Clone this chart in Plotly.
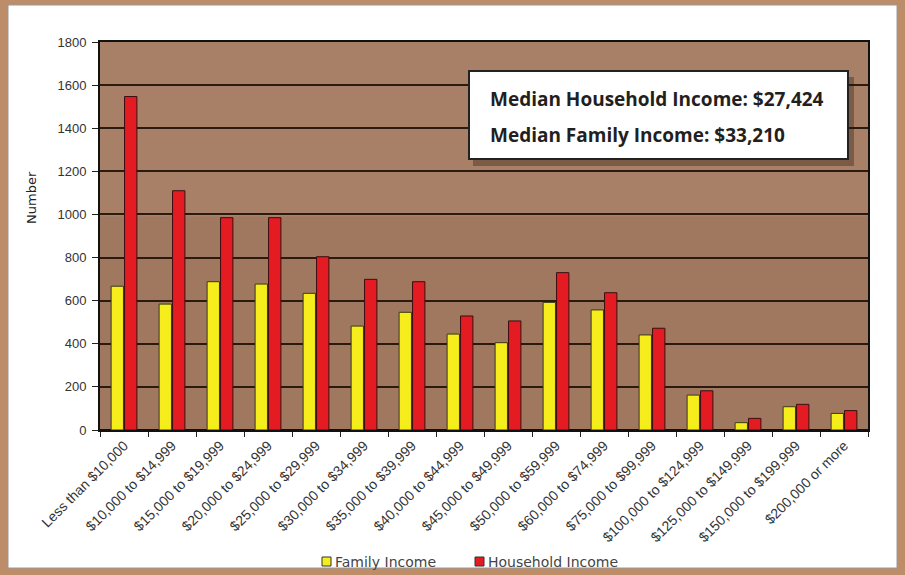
import plotly.graph_objects as go

categories = ["Less than $10,000", "$10,000 to $14,999", "$15,000 to $19,999",
              "$20,000 to $24,999", "$25,000 to $29,999", "$30,000 to $34,999",
              "$35,000 to $39,999", "$40,000 to $44,999", "$45,000 to $49,999",
              "$50,000 to $59,999", "$60,000 to $74,999", "$75,000 to $99,999",
              "$100,000 to $124,999", "$125,000 to $149,999", "$150,000 to $199,999",
              "$200,000 or more"]
family_income = [667, 584, 688, 677, 634, 482, 546, 445, 405, 592, 557, 441, 162, 34, 108, 77]
household_income = [1547, 1110, 985, 985, 804, 699, 688, 529, 506, 730, 637, 472, 182, 54, 119, 90]
y_ticks = [0, 200, 400, 600, 800, 1000, 1200, 1400, 1600, 1800]
series_names = ["Family Income", "Household Income"]
series_colors = ["#f6ee1c", "#e41b22"]

W, H = 905, 575
ML, MR, MT, MB = 100, 37, 42, 145
PW, PH = W - ML - MR, H - MT - MB

def px(x):
    return (x - ML) / PW

def py(y):
    return (H - MB - y) / PH

fig = go.Figure()
for name, vals, col, edge in zip(series_names, [family_income, household_income],
                                 series_colors, ["#3a3a10", "#3a1010"]):
    fig.add_trace(go.Bar(name=name, x=categories, y=vals,
                         marker=dict(color=col, line=dict(color=edge, width=1))))

shapes = [
    # white panel inside wooden frame
    dict(type="rect", xref="paper", yref="paper", layer="below",
         x0=px(8), x1=px(897), y0=py(568), y1=py(5),
         fillcolor="white", line=dict(color="#9a9a9a", width=1)),
    # wooden plot background
    dict(type="rect", xref="paper", yref="paper", layer="below",
         x0=0, x1=1, y0=0, y1=1, fillcolor="#9f785f", line=dict(width=0)),
    dict(type="rect", xref="paper", yref="paper", layer="below",
         x0=0, x1=1, y0=0.55, y1=1, fillcolor="rgba(200,160,130,0.22)", line=dict(width=0)),
    # box shadow
    dict(type="rect", xref="paper", yref="paper", layer="above",
         x0=px(473), x1=px(854), y0=py(166), y1=py(77),
         fillcolor="rgba(40,20,10,0.35)", line=dict(width=0)),
    # annotation box
    dict(type="rect", xref="paper", yref="paper", layer="above",
         x0=px(469), x1=px(848), y0=py(159), y1=py(71),
         fillcolor="white", line=dict(color="#222222", width=2)),
]

annotations = [
    dict(text="<b>Median Household Income: $27,424</b>", xref="paper", yref="paper",
         x=px(488), y=py(99), xanchor="left", yanchor="middle", showarrow=False,
         font=dict(family="Open Sans", size=19, color="#231f20")),
    dict(text="<b>Median Family Income: $33,210</b>", xref="paper", yref="paper",
         x=px(488), y=py(135), xanchor="left", yanchor="middle", showarrow=False,
         font=dict(family="Open Sans", size=19, color="#231f20")),
    dict(text="Number", xref="paper", yref="paper", x=px(31), y=py(198),
         textangle=-90, showarrow=False, xanchor="center", yanchor="middle",
         font=dict(family="DejaVu Sans", size=13, color="#222222")),
]

# manual legend
leg_x = [322, 475]
for name, col, lx in zip(series_names, series_colors, leg_x):
    shapes.append(dict(type="rect", xref="paper", yref="paper", layer="above",
                       x0=px(lx), x1=px(lx + 9), y0=py(566), y1=py(557),
                       fillcolor=col, line=dict(color="#333333", width=1)))
    annotations.append(dict(text=name, xref="paper", yref="paper", x=px(lx + 11), y=py(561.5),
                            xanchor="left", yanchor="middle", showarrow=False,
                            font=dict(family="DejaVu Sans", size=14, color="#444444")))

fig.update_layout(
    width=W, height=H,
    margin=dict(l=ML, r=MR, t=MT, b=MB, autoexpand=False),
    paper_bgcolor="#bd8c68",
    plot_bgcolor="#9f785f",
    barmode="group",
    bargap=0.44,
    bargroupgap=0.08,
    shapes=shapes,
    annotations=annotations,
    font=dict(family="Liberation Sans, Arial", size=12, color="#222222"),
    showlegend=False,
)
fig.update_xaxes(
    type="category", showline=True, linecolor="#111111", linewidth=2, mirror=True,
    ticks="outside", tickson="boundaries", ticklen=5, tickcolor="#222222",
    tickangle=-45, tickfont=dict(size=14, color="#333333"), showgrid=False,
    automargin=False,
)
fig.update_yaxes(
    range=[0, 1800], tickvals=y_ticks, showline=True, linecolor="#111111", linewidth=2,
    mirror=True, ticks="outside", ticklen=6, tickcolor="#222222", ticklabelstandoff=3,
    showgrid=True, gridcolor="#2b1a10", gridwidth=1.5,
    zeroline=True, zerolinecolor="#111111", zerolinewidth=2,
    tickfont=dict(size=13, color="#333333"), automargin=False,
)

fig.write_html("out.html", config={"displayModeBar": False},
               post_script="document.body.style.margin='0';document.body.style.overflow='hidden';")
